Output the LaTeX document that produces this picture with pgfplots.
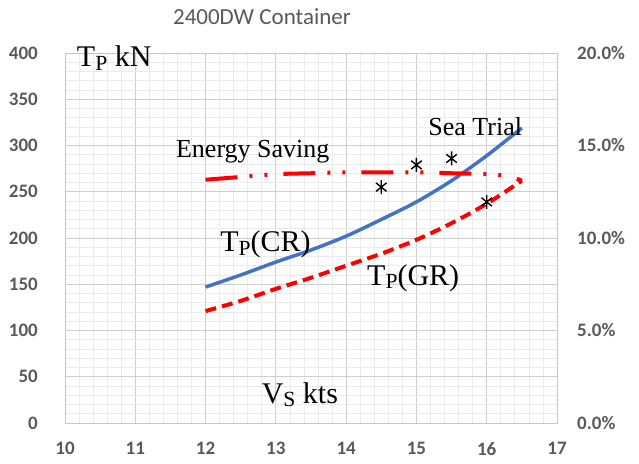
\documentclass[border=0pt]{standalone}
\usepackage{pgfplots}
\pgfplotsset{compat=1.18}
\usepackage{fontspec}
\setmainfont{Carlito}
\newfontfamily\serif{Liberation Serif}
\definecolor{tickgray}{HTML}{595959}
\definecolor{cblue}{HTML}{4472C4}
\newcommand{\sub}[1]{\raisebox{-0.12em}{\scalebox{0.72}{#1}}}
\pgfdeclareplotmark{xstar}{%
  \pgfpathmoveto{\pgfqpoint{0pt}{-\pgfplotmarksize}}%
  \pgfpathlineto{\pgfqpoint{0pt}{\pgfplotmarksize}}%
  \pgfpathmoveto{\pgfqpoint{-0.75\pgfplotmarksize}{-0.6\pgfplotmarksize}}%
  \pgfpathlineto{\pgfqpoint{0.75\pgfplotmarksize}{0.6\pgfplotmarksize}}%
  \pgfpathmoveto{\pgfqpoint{-0.75\pgfplotmarksize}{0.6\pgfplotmarksize}}%
  \pgfpathlineto{\pgfqpoint{0.75\pgfplotmarksize}{-0.6\pgfplotmarksize}}%
  \pgfusepathqstroke}
\begin{document}
\begin{tikzpicture}
\useasboundingbox (0,0) rectangle (639pt,463pt);
\node[anchor=base, text=tickgray, font=\fontsize{23}{23}\selectfont] at (262pt,438pt) {2400DW Container};
\begin{axis}[at={(65pt,40pt)}, anchor=south west, scale only axis, width=492pt, height=370pt,
  xmin=10, xmax=17, ymin=0, ymax=400,
  xtick={10,...,17}, ytick={0,50,...,400},
  minor x tick num=4, minor y tick num=4, grid=both,
  major grid style={draw=gray!38, line width=0.9pt},
  minor grid style={draw=gray!16, line width=0.7pt},
  axis line style={draw=gray!45, line width=0.9pt},
  major tick length=0pt, minor tick length=0pt,
  ticklabel style={font=\fontsize{19}{19}\selectfont\bfseries, text=tickgray, inner sep=0pt},
  /pgf/number format/assume math mode=true,
  yticklabel style={anchor=east}, yticklabel shift=27pt,
  xticklabel style={anchor=north}, xticklabel shift=19pt,
  clip=false]
\addplot[cblue, line width=3.5pt, smooth] coordinates {
 (12,147) (12.5,160) (13,174) (13.5,187) (14,202) (14.5,220) (15,239) (15.5,262) (16,289) (16.5,319)};
\addplot[red, line width=4pt, smooth, dash pattern=on 11pt off 6pt] coordinates {
 (12,121) (12.5,132) (13,145) (13.5,157) (14,170) (14.5,183) (15,198) (15.5,216) (16,237) (16.5,262)};
\addplot[only marks, mark=xstar, mark size=7pt, mark options={black, line width=1.4pt}] coordinates {
 (14.5,255) (15,279) (15.5,286) (16,239)};
\node[anchor=base west, font=\serif\fontsize{30}{30}\selectfont] at (axis cs:10.12,385) {T\sub{P} kN};
\node[anchor=base west, font=\serif\fontsize{26}{26}\selectfont] at (axis cs:11.53,287) {Energy Saving};
\node[anchor=base west, font=\serif\fontsize{26}{26}\selectfont] at (axis cs:15.12,311) {Sea Trial};
\node[anchor=base west, font=\serif\fontsize{30}{30}\selectfont] at (axis cs:12.16,185) {T\sub{P}(CR)};
\node[anchor=base west, font=\serif\fontsize{30}{30}\selectfont] at (axis cs:14.25,149) {T\sub{P}(GR)};
\node[anchor=base west, font=\serif\fontsize{30}{30}\selectfont] at (axis cs:12.75,21.6) {V\sub{S} kts};
\end{axis}
\begin{axis}[at={(65pt,40pt)}, anchor=south west, scale only axis, width=492pt, height=370pt,
  xmin=10, xmax=17, ymin=0, ymax=20,
  axis x line=none, axis y line*=right,
  ytick={0,5,...,20},
  axis line style={draw=gray!45, line width=0.9pt},
  major tick length=0pt,
  ticklabel style={font=\fontsize{19}{19}\selectfont\bfseries, text=tickgray, inner sep=0pt},
  /pgf/number format/assume math mode=true,
  yticklabel style={anchor=west}, yticklabel shift=20pt,
  yticklabel={\pgfmathprintnumber[fixed,fixed zerofill,precision=1]{\tick}\%},
  clip=false]
\addplot[red, line width=4pt, smooth, dash pattern=on 32pt off 12pt on 3pt off 12pt on 3pt off 16pt] coordinates {
 (12,13.15) (12.5,13.3) (13,13.45) (13.5,13.5) (14,13.55) (14.5,13.55) (15,13.55) (15.5,13.5) (16,13.45) (16.3,13.35) (16.5,13.1)};
\end{axis}
\end{tikzpicture}
\end{document}
